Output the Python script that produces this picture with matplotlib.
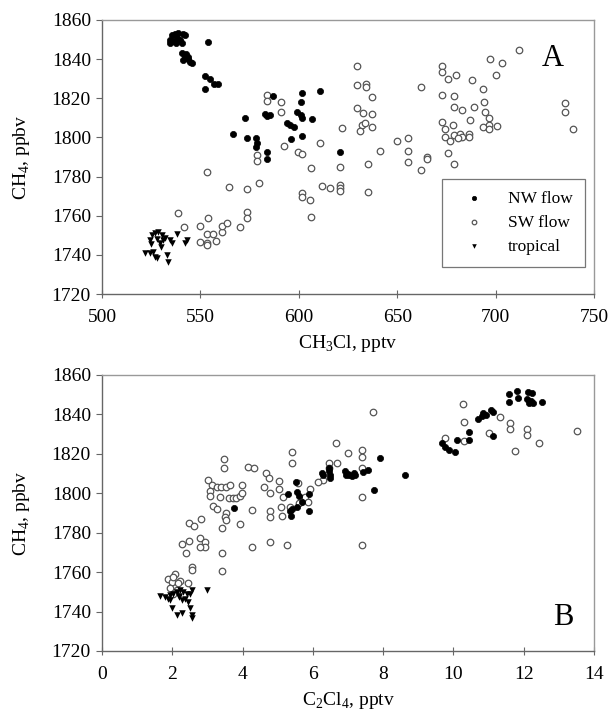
import matplotlib
matplotlib.use('Agg')
from matplotlib import pyplot as plt

plt.rcParams['font.family'] = ['Liberation Serif', 'DejaVu Serif']

# ---- panel A: CH4 vs CH3Cl ----
a_nw_x = [534.6, 535.5, 537.0, 538.5, 541.0, 542.2, 536.0, 537.6, 539.5, 540.8, 534.8, 538.0,
          554.0,
          540.5, 542.0, 543.5, 541.0, 544.5, 545.6, 542.5, 543.8,
          552.3, 554.9, 556.9, 559.1, 552.3,
          586.7, 601.4, 610.8, 601.0, 598.9, 601.0, 601.5, 582.8, 584.0, 585.4, 572.7, 606.6,
          593.8, 595.5, 597.6, 566.7, 573.8, 578.1, 578.6, 578.3, 595.9, 601.8, 583.7, 583.7, 620.9]
a_nw_y = [1848.1, 1852.3, 1853.0, 1853.5, 1852.8, 1852.3, 1849.5, 1848.1, 1850.0, 1848.1, 1849.6, 1851.0,
          1848.6,
          1843.0, 1841.5, 1840.0, 1839.5, 1838.5, 1838.0, 1842.8, 1841.3,
          1831.5, 1829.7, 1827.3, 1827.1, 1824.7,
          1821.3, 1822.5, 1823.5, 1818.3, 1813.1, 1811.5, 1809.8, 1811.8, 1811.0, 1811.3, 1810.1, 1809.4,
          1807.2, 1806.3, 1805.5, 1801.7, 1799.9, 1799.5, 1797.0, 1794.9, 1799.2, 1800.7, 1792.4, 1789.0, 1792.4]

a_sw_x = [583.7, 583.7, 590.8, 590.8, 622.1, 610.8, 592.6, 599.8, 601.8, 578.6, 578.6, 606.1, 620.9,
          553.5, 564.7, 573.8, 579.8, 601.8, 601.8, 605.7, 612.0, 616.0, 620.9, 620.9, 620.9,
          538.8, 541.8, 553.7, 549.8, 553.5, 556.6, 560.8, 560.8, 563.7, 549.8, 553.5, 553.5, 557.8,
          570.1, 573.8, 573.5, 606.0,
          629.7, 629.7, 634.0, 634.0, 637.0, 629.7, 632.8, 637.0, 632.0, 633.7, 631.2, 637.0, 641.3,
          635.0, 635.0, 650.0, 655.6, 655.3, 655.3, 665.0, 665.0, 661.9, 661.9,
          672.9, 672.9, 676.0, 679.9, 672.9, 678.9, 678.9, 682.8, 672.9, 674.3, 678.2, 674.3, 676.8,
          678.9, 682.0, 682.8, 681.1, 676.0, 678.9,
          688.2, 693.8, 700.3, 697.0, 703.0, 712.0, 688.8, 694.0, 694.7, 687.0, 686.3, 686.3, 696.5,
          696.5, 693.8, 696.5, 700.8, 735.3, 735.3, 739.2]
a_sw_y = [1821.7, 1818.8, 1818.3, 1812.8, 1804.8, 1797.0, 1795.8, 1792.4, 1791.4, 1791.0, 1788.1, 1784.4, 1784.9,
          1782.2, 1774.8, 1773.6, 1776.9, 1771.8, 1769.7, 1768.0, 1775.3, 1774.4, 1775.7, 1774.2, 1772.8,
          1761.2, 1754.1, 1759.0, 1754.7, 1750.6, 1750.6, 1751.8, 1754.7, 1756.2, 1746.7, 1746.3, 1745.0, 1746.9,
          1754.4, 1762.0, 1758.7, 1759.3,
          1836.5, 1826.8, 1827.3, 1826.0, 1820.8, 1814.9, 1812.7, 1811.8, 1806.5, 1807.2, 1803.5, 1805.3, 1793.2,
          1786.4, 1772.3, 1798.4, 1799.6, 1793.1, 1787.6, 1790.2, 1789.0, 1783.4, 1825.9,
          1836.5, 1833.6, 1829.7, 1831.7, 1821.7, 1821.2, 1815.7, 1814.0, 1808.1, 1804.2, 1806.4, 1800.4, 1798.2,
          1801.2, 1802.0, 1800.4, 1799.5, 1791.9, 1786.3,
          1829.2, 1824.6, 1831.7, 1840.3, 1838.2, 1844.5, 1815.7, 1818.2, 1813.0, 1808.7, 1801.9, 1800.2, 1809.7,
          1806.5, 1805.4, 1804.1, 1805.8, 1817.4, 1812.8, 1804.3]

a_tr_x = [521.8, 524.4, 526.1, 526.9, 527.8, 532.9, 533.7, 524.4, 525.3, 526.9, 528.6, 530.3,
          531.1, 534.6, 535.4, 538.0, 543.0, 542.2, 529.5, 532.0, 525.0, 528.0, 530.0]
a_tr_y = [1741.1, 1741.1, 1741.6, 1738.7, 1738.2, 1739.9, 1736.2, 1747.6, 1750.1, 1751.0, 1751.5, 1750.1,
          1747.6, 1747.6, 1745.9, 1750.6, 1747.6, 1745.9, 1745.9, 1748.4, 1745.5, 1748.0, 1744.0]

# ---- panel B: CH4 vs C2Cl4 ----
b_nw_x = [3.76, 5.28, 5.51, 5.54, 5.60, 5.90, 5.70, 5.54, 5.40, 5.35, 5.37, 5.90,
          6.25, 6.46, 6.47, 6.30, 6.49, 6.49,
          6.92, 7.01, 6.93, 7.02, 7.11, 7.21, 7.16, 7.44, 7.58,
          7.91, 8.62, 7.74,
          9.67, 9.77, 9.86, 10.05, 10.09, 10.45, 10.45,
          10.70, 10.80, 10.84, 10.94, 11.08, 11.13, 11.12,
          11.58, 11.58, 11.80, 11.85, 12.13, 12.23, 12.10, 12.20, 12.15, 12.25, 12.53]
b_nw_y = [1792.7, 1799.6, 1805.6, 1800.4, 1798.6, 1799.6, 1795.6, 1793.1, 1792.0, 1791.0, 1788.4, 1790.9,
          1810.3, 1811.4, 1812.7, 1809.4, 1809.3, 1808.0,
          1811.4, 1810.0, 1809.5, 1809.4, 1808.6, 1809.4, 1810.3, 1810.7, 1811.6,
          1818.0, 1809.3, 1801.7,
          1825.3, 1823.6, 1822.2, 1821.1, 1827.0, 1827.0, 1831.2,
          1837.7, 1839.0, 1840.7, 1839.9, 1842.1, 1841.0, 1829.2,
          1850.4, 1846.5, 1852.0, 1848.2, 1851.5, 1851.1, 1847.6, 1846.8, 1845.6, 1845.9, 1846.2]

b_sw_x = [6.65, 7.01, 5.42, 5.42, 3.47, 3.47, 4.16, 4.33, 4.66, 4.75, 5.04, 5.04, 4.61, 5.16, 4.78,
          5.59, 5.92, 5.78, 5.87, 5.35, 5.61, 6.47, 6.68, 6.47, 6.30, 6.16,
          3.03, 3.12, 3.26, 3.40, 3.54, 3.64, 3.07, 3.07, 3.35, 3.62, 3.73, 3.81, 3.92, 3.98, 3.97,
          3.15, 3.26, 3.52, 3.50, 3.54, 3.42, 3.92, 4.28, 4.78, 4.78, 5.11, 5.09,
          2.49, 2.62, 2.81, 2.29, 2.49, 2.79, 2.93, 2.93, 2.79, 2.40, 2.55, 2.55,
          4.26, 4.78, 5.27, 3.41, 3.41,
          1.89, 2.08, 1.98, 2.22, 2.46, 1.94, 2.13, 2.03, 2.17, 2.03,
          7.70, 7.39, 7.39, 7.39, 7.39, 7.39,
          10.28, 10.30, 9.76, 10.31, 11.33, 11.02, 11.61, 11.61, 12.08, 12.08, 11.75, 12.44, 13.53]
b_sw_y = [1825.7, 1820.6, 1821.1, 1815.2, 1817.2, 1813.0, 1813.5, 1813.0, 1810.4, 1807.9, 1806.4, 1802.0,
          1803.3, 1798.3, 1800.0,
          1805.0, 1802.0, 1798.3, 1795.7, 1792.9, 1794.9, 1815.2, 1815.5, 1812.7, 1806.7, 1805.9,
          1806.7, 1804.2, 1803.3, 1803.0, 1803.3, 1804.2, 1801.3, 1798.7, 1798.2, 1797.8, 1797.5, 1797.8,
          1798.7, 1804.2, 1800.2,
          1793.5, 1791.8, 1790.1, 1788.1, 1786.4, 1782.5, 1784.3, 1791.5, 1791.2, 1788.1, 1788.6, 1793.2,
          1785.0, 1783.3, 1786.7, 1774.3, 1776.0, 1777.2, 1775.5, 1773.0, 1772.6, 1769.9, 1762.5, 1761.1,
          1773.0, 1775.5, 1773.8, 1769.5, 1760.6,
          1756.3, 1759.0, 1755.1, 1755.6, 1754.3, 1751.9, 1751.0, 1748.8, 1754.3, 1757.6,
          1841.2, 1822.0, 1818.3, 1812.7, 1798.3, 1773.8,
          1845.1, 1836.2, 1827.9, 1826.7, 1838.9, 1830.4, 1835.8, 1832.6, 1832.6, 1829.6, 1821.6, 1825.7, 1831.4]

b_tr_x = [1.65, 1.79, 1.88, 1.93, 2.03, 2.14, 2.22, 2.31, 2.41, 2.50, 2.55, 2.18, 2.27,
          1.98, 2.14, 2.27, 2.50, 2.55, 2.55, 2.98, 1.93, 2.20, 2.35, 2.45]
b_tr_y = [1748.0, 1747.5, 1746.6, 1745.8, 1749.1, 1750.0, 1750.8, 1750.0, 1749.1, 1748.8, 1750.8, 1747.5, 1745.8,
          1741.6, 1738.2, 1739.1, 1741.6, 1738.2, 1736.5, 1750.8, 1748.3, 1748.0, 1746.5, 1745.0]

y_ticks = list(range(1720, 1861, 20))
a_xticks = [500, 550, 600, 650, 700, 750]
b_xticks = [0, 2, 4, 6, 8, 10, 12, 14]


def style_axes(ax):
    for side in ['left', 'bottom']:
        ax.spines[side].set_color('#666666')
        ax.spines[side].set_linewidth(1.0)
    for side in ['top', 'right']:
        ax.spines[side].set_color('#999999')
        ax.spines[side].set_linewidth(1.0)
    ax.tick_params(axis='y', direction='out', length=4, color='#666666', labelsize=14, pad=4)
    ax.tick_params(axis='x', direction='inout', length=6, color='#666666', labelsize=14, pad=8)
    ax.set_ylim(1720, 1860)
    ax.set_yticks(y_ticks)
    ax.set_ylabel('CH$_\\mathregular{4}$, ppbv', fontsize=14, labelpad=14)


def draw(ax, nw, sw, tr):
    ax.scatter(sw[0], sw[1], s=22, facecolors='white', edgecolors='#555555', linewidths=0.9,
               label='SW flow', zorder=2)
    ax.scatter(nw[0], nw[1], s=20, c='black', edgecolors='black', linewidths=0.5,
               label='NW flow', zorder=3)
    ax.scatter(tr[0], tr[1], s=22, c='black', marker='v', linewidths=0,
               label='tropical', zorder=3)


fig = plt.figure(figsize=(6.11, 7.21), dpi=100)
ax1 = fig.add_axes([0.1669, 0.5922, 0.8053, 0.3801])
ax2 = fig.add_axes([0.1669, 0.0971, 0.8053, 0.3828])

draw(ax1, (a_nw_x, a_nw_y), (a_sw_x, a_sw_y), (a_tr_x, a_tr_y))
style_axes(ax1)
ax1.set_xlim(500, 750)
ax1.set_xticks(a_xticks)
ax1.set_xlabel('CH$_\\mathregular{3}$Cl, pptv', fontsize=14, labelpad=5)
ax1.text(0.917, 0.861, 'A', transform=ax1.transAxes, fontsize=22, ha='center', va='center')

handles, labels = ax1.get_legend_handles_labels()
order = [labels.index('NW flow'), labels.index('SW flow'), labels.index('tropical')]
leg = ax1.legend([handles[i] for i in order], [labels[i] for i in order],
                 loc='lower right', bbox_to_anchor=(0.982, 0.0985), borderaxespad=0,
                 fontsize=12.5, frameon=True, fancybox=False, edgecolor='#777777', framealpha=1,
                 handletextpad=0.9, handlelength=2.2, borderpad=0.7, labelspacing=0.45,
                 markerscale=0.7)
leg.get_frame().set_linewidth(0.9)

draw(ax2, (b_nw_x, b_nw_y), (b_sw_x, b_sw_y), (b_tr_x, b_tr_y))
style_axes(ax2)
ax2.set_xlim(0, 14)
ax2.set_xticks(b_xticks)
ax2.set_xlabel('C$_\\mathregular{2}$Cl$_\\mathregular{4}$, pptv', fontsize=14, labelpad=5)
ax2.text(0.937, 0.123, 'B', transform=ax2.transAxes, fontsize=22, ha='center', va='center')

fig.savefig('out.png', dpi=100)
